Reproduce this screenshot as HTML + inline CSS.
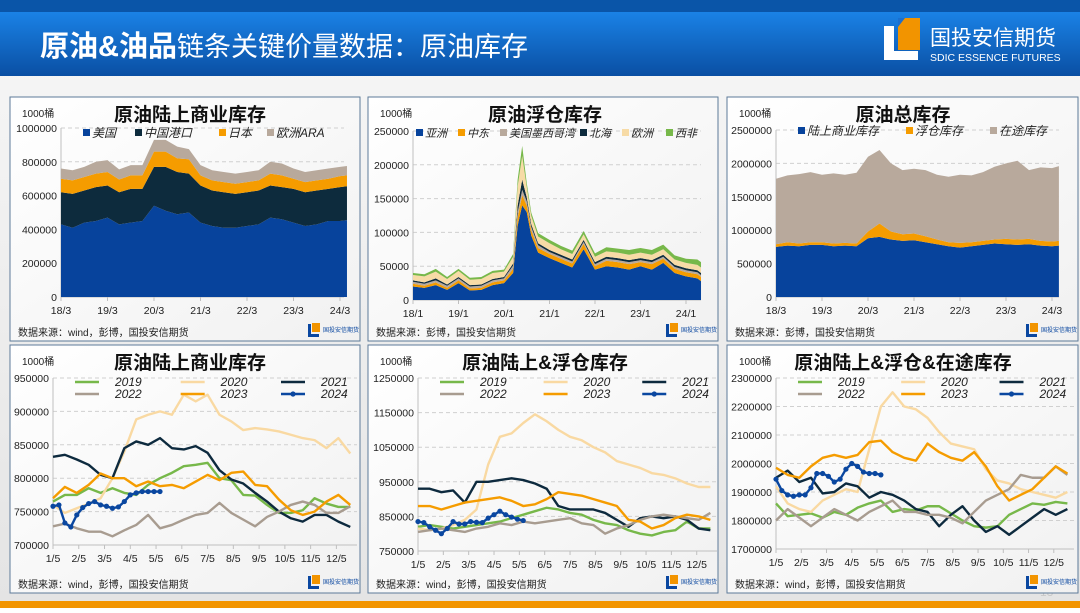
<!DOCTYPE html>
<html><head><meta charset="utf-8">
<style>
body{margin:0;width:1080px;height:608px;overflow:hidden;font-family:"Liberation Sans","Noto Sans CJK SC",sans-serif;}
svg text{font-family:"Liberation Sans","Noto Sans CJK SC",sans-serif;}
</style></head>
<body>
<svg id="root" width="1080" height="608" viewBox="0 0 1080 608" xmlns="http://www.w3.org/2000/svg">
<defs>
<linearGradient id="hdr" x1="0" y1="0" x2="0" y2="1"><stop offset="0" stop-color="#1a82e6"/><stop offset="1" stop-color="#0a4fa3"/></linearGradient>
<linearGradient id="bg" x1="0" y1="0" x2="0" y2="1"><stop offset="0" stop-color="#f7f7f7"/><stop offset="1" stop-color="#e4e4e4"/></linearGradient>
<linearGradient id="pbg" x1="0" y1="0" x2="1" y2="1"><stop offset="0" stop-color="#ffffff"/><stop offset="1" stop-color="#f1f1f1"/></linearGradient>
</defs>
<rect x="0" y="0" width="1080" height="608" fill="url(#bg)"/>
<rect x="0" y="0" width="1080" height="12" fill="#0a55a8"/>
<rect x="0" y="12" width="1080" height="64" fill="url(#hdr)"/>
<text x="40" y="56" fill="#fff" font-size="29"><tspan font-weight="bold">原油&amp;油品</tspan><tspan font-size="27">链条关键价量数据：原油库存</tspan></text>
<g>
<rect x="884" y="26" width="10" height="34" fill="#fff"/><rect x="884" y="51" width="34" height="9" fill="#fff"/>
<polygon points="898,18 920,18 920,50 898,50" fill="#f29400"/>
<polygon points="898,18 905,18 898,27" fill="#1a6fd0"/>
<text x="930" y="45" fill="#fff" font-size="21">国投安信期货</text>
<text x="930" y="61" fill="#fff" font-size="10.5">SDIC ESSENCE FUTURES</text>
</g>
<rect x="0" y="601" width="1080" height="7" fill="#f29400"/>
<text x="1040" y="596" fill="#c8c8c8" font-size="12">13</text>
<g id="charts"></g>
</svg>
<script>
// ---------- Data ----------
const c1Dates=[0,1,2,3,4,5,6,7,8,9,10,11,12,13,14,15,16,17,18,19,20,21,22,23,24,24.6];
const c1Series=['美国','中国港口','日本','欧洲ARA'];
const c1US=[430,410,440,450,470,430,440,450,540,510,490,500,440,420,410,410,420,430,470,460,440,420,430,450,450,455];
const c1China=[190,200,190,200,190,190,200,190,230,260,250,230,220,210,210,200,200,200,190,190,200,200,200,190,200,200];
const c1Japan=[80,80,80,80,80,75,80,80,90,90,80,85,60,60,60,60,60,60,70,70,60,60,60,60,65,65];
const c1ARA=[60,60,60,70,70,60,60,60,70,70,70,60,60,60,60,60,60,60,70,70,60,60,60,60,55,55];
const c1Ticks=['18/3','19/3','20/3','21/3','22/3','23/3','24/3'];
const c1YTicks=[0,200000,400000,600000,800000,1000000];

const c2Dates=[2018.0,2018.25,2018.5,2018.75,2019.0,2019.25,2019.5,2019.75,2020.0,2020.2,2020.3,2020.4,2020.5,2020.6,2020.75,2021.0,2021.25,2021.5,2021.75,2022.0,2022.25,2022.5,2022.75,2023.0,2023.25,2023.5,2023.75,2024.0,2024.25,2024.33];
const c2Series=['亚洲','中东','美国墨西哥湾','北海','欧洲','西非'];
const c2Asia=[20,18,22,15,25,14,15,22,25,40,110,140,130,95,70,62,55,48,75,45,50,48,45,50,45,55,40,35,32,28];
const c2ME=[4,3,4,3,4,3,3,4,4,6,12,15,10,8,7,6,6,6,8,5,8,8,8,6,8,6,6,6,6,6];
const c2USG=[3,3,3,3,3,3,3,3,3,5,8,8,6,5,4,3,3,3,3,3,3,3,3,3,3,3,3,3,3,3];
const c2NS=[2,2,3,2,2,2,2,2,2,3,10,15,6,4,3,3,3,3,3,3,3,3,3,3,3,3,3,3,3,3];
const c2EU=[8,9,10,8,9,8,8,9,8,10,28,35,15,12,10,10,8,8,8,8,8,8,8,8,8,8,8,8,8,8];
const c2WA=[3,3,4,3,3,3,3,3,3,4,10,15,6,5,5,5,5,5,5,5,6,6,7,7,7,7,6,6,8,8];
const c2Ticks=['18/1','19/1','20/1','21/1','22/1','23/1','24/1'];
const c2YTicks=[0,50000,100000,150000,200000,250000];

const c3Dates=c1Dates;
const c3Series=['陆上商业库存','浮仓库存','在途库存'];
const c3On=[750,770,760,780,780,760,770,760,880,900,860,840,850,820,790,760,740,760,780,800,790,780,790,770,760,770];
const c3Float=[40,50,40,40,40,40,40,40,100,200,120,100,100,90,70,60,70,60,60,60,80,80,80,70,70,70];
const c3Transit=[980,1000,1040,1050,1010,1050,1020,1060,1120,1100,1020,960,970,990,970,980,1020,1000,1030,1090,1130,1180,1030,1100,1100,1120];
const c3Ticks=c1Ticks;
const c3YTicks=[0,500000,1000000,1500000,2000000,2500000];

const years=['2019','2020','2021','2022','2023','2024'];
const monthTicks=['1/5','2/5','3/5','4/5','5/5','6/5','7/5','8/5','9/5','10/5','11/5','12/5'];
const c4y2019=[765,775,775,785,778,785,778,775,790,800,808,818,820,823,800,797,775,774,760,748,748,752,770,762,757,757];
const c4y2020=[760,748,755,762,770,800,840,888,895,900,895,925,915,925,895,885,872,875,873,870,865,860,857,845,860,837];
const c4y2021=[832,835,828,820,805,800,845,855,850,860,845,843,848,838,812,798,792,778,765,750,740,735,745,745,735,727];
const c4y2022=[728,732,725,720,720,713,722,730,745,725,730,738,745,748,763,748,738,728,742,750,760,765,760,748,748,758];
const c4y2023=[770,787,778,790,807,800,800,788,795,788,790,785,795,805,797,808,810,790,788,768,752,745,750,765,775,760];
const c4y2024=[758,760,733,727,745,756,762,765,760,758,755,757,765,775,778,780,780,780,780];
const c4YTicks=[700000,750000,800000,850000,900000,950000];

const c5y2019=[820,825,820,815,820,825,830,835,845,855,865,875,870,860,855,840,830,825,810,800,795,805,810,835,815,815];
const c5y2020=[815,810,815,825,840,870,1000,1080,1090,1120,1145,1125,1100,1080,1070,1050,1035,1010,1000,990,975,970,960,945,935,935];
const c5y2021=[930,930,920,925,890,950,950,955,960,955,945,930,880,870,870,870,860,840,820,845,850,845,850,840,815,810];
const c5y2022=[805,810,815,810,805,815,820,830,825,835,830,835,840,845,830,825,800,815,825,840,850,855,850,845,840,860];
const c5y2023=[880,880,870,880,890,895,900,905,895,880,885,900,920,915,910,900,890,880,840,835,815,825,845,855,850,840];
const c5y2024=[835,832,820,810,800,815,835,828,828,835,833,832,845,855,865,855,848,842,838];
const c5YTicks=[750000,850000,950000,1050000,1150000,1250000];

const c6y2019=[1860,1815,1820,1825,1810,1830,1820,1845,1860,1870,1830,1840,1835,1850,1850,1825,1800,1780,1775,1780,1820,1840,1860,1855,1865,1860];
const c6y2020=[1920,1860,1840,1830,1870,1890,1910,1900,2050,2200,2250,2200,2190,2160,2110,2070,2060,2050,1980,1940,1930,1910,1900,1890,1880,1900];
const c6y2021=[1950,1975,1935,1950,1895,1900,1930,1920,1880,1900,1890,1870,1840,1830,1780,1820,1850,1800,1760,1780,1750,1780,1810,1840,1820,1840];
const c6y2022=[1800,1840,1810,1780,1810,1840,1820,1800,1830,1850,1870,1830,1830,1820,1820,1810,1790,1830,1870,1890,1910,1960,1950,1950,1990,1960];
const c6y2023=[1985,1960,1950,1990,2020,2030,2020,2030,2075,2080,2040,2020,2010,2070,2040,2020,2010,2040,1990,1920,1870,1890,1910,1950,1990,1965];
const c6y2024=[1945,1905,1890,1885,1890,1890,1915,1965,1965,1955,1935,1945,1980,2000,1990,1970,1965,1965,1960];
const c6YTicks=[1700000,1800000,1900000,2000000,2100000,2200000,2300000];

// ---------- Helpers ----------
const NS='http://www.w3.org/2000/svg';
const root=document.getElementById('charts');
function mk(tag,attrs,parent,txt){const e=document.createElementNS(NS,tag);for(const k in attrs)e.setAttribute(k,attrs[k]);if(txt!==undefined)e.textContent=txt;(parent||root).appendChild(e);return e;}
const yearColors=['#77b84a','#f9d9a2','#0d2a3e','#a89c90','#f59c00','#0a47a0'];

function panel(px,py,pw,ph,title,titleX,name,src){
  const g=mk('g',{});
  
  
  mk('rect',{x:px,y:py,width:pw,height:ph,fill:'url(#pbg)',stroke:'#5d7a99','stroke-width':1},g);
  const t=mk('text',{x:titleX,y:py+24,'font-size':19,'font-weight':'bold','text-anchor':'middle',fill:'#111'},g,title);
  
  
  const u=mk('text',{x:px+12,y:py+20,'font-size':10,fill:'#222'},g,'1000桶');
  
  
  const s=mk('text',{x:px+8,y:py+ph-5,'font-size':10,fill:'#222'},g,src);
  
  
  const lg=mk('g',{},g);
  
  
  const lx=px+pw-52,ly=py+ph-17;
  mk('rect',{x:lx,y:ly,width:3,height:12,fill:'#0a47a0'},lg);
  mk('rect',{x:lx,y:ly+10,width:11,height:3,fill:'#0a47a0'},lg);
  mk('rect',{x:lx+4,y:ly-1,width:8,height:9,fill:'#f29400'},lg);
  mk('text',{x:lx+15,y:ly+8,'font-size':6,fill:'#0a47a0'},lg,'国投安信期货');
  return g;
}
function yAxis(g,ticks,L,R,T,B,ymin,ymax){
  const ys=v=>B-(v-ymin)/(ymax-ymin)*(B-T);
  ticks.forEach(v=>{
    const y=ys(v);
    if(v!==ymin) mk('line',{x1:L,x2:R,y1:y,y2:y,stroke:'#d0d0d0','stroke-dasharray':'4,3'},g);
    const t=mk('text',{x:L-4,y:y+4,'font-size':10.5,'text-anchor':'end',fill:'#222','font-family':'Liberation Serif, serif'},g,String(v));
    
    
  });
  mk('line',{x1:L,x2:L,y1:T,y2:B,stroke:'#bfbfbf'},g);
  mk('line',{x1:L,x2:R,y1:B,y2:B,stroke:'#bfbfbf'},g);
  return ys;
}
function xTicks(g,labels,xs,B){
  labels.forEach((l,i)=>{
    const x=xs(i);
    mk('line',{x1:x,x2:x,y1:B,y2:B+4,stroke:'#bfbfbf'},g);
    const t=mk('text',{x:x,y:B+17,'font-size':10.5,'text-anchor':'middle',fill:'#222','font-family':'Liberation Serif, serif'},g,l);
    
    
  });
}
function stacked(g,dates,layers,colors,xs,ys,names,scale){
  let base=dates.map(()=>0);
  layers.forEach((arr,k)=>{
    const top=arr.map((v,i)=>base[i]+v*scale);
    let d='M'+dates.map((t,i)=>xs(t)+','+ys(top[i])).join(' L');
    for(let i=dates.length-1;i>=0;i--) d+=' L'+xs(dates[i])+','+ys(base[i]);
    const p=mk('path',{d:d+'Z',fill:colors[k]},g);
    
    
    base=top;
  });
}
function legendSq(g,items,colors,x0,y,gaps,fs){
  let x=x0;
  items.forEach((n,i)=>{
    mk('rect',{x:x,y:y-8,width:7,height:7,fill:colors[i]},g);
    const t=mk('text',{x:x+9,y:y,'font-size':fs||12,'font-style':'italic',fill:'#222'},g,n);
    
    
    x+=gaps[i];
  });
}
function seasonal(g,L,R,T,B,datas,ymin,ymax,ticks){
  const ys=yAxis(g,ticks,L,R,T,B,ymin,ymax);
  const monthW=(R-L)/11.8;
  const xm=i=>L+i*monthW;
  const xw=w=>L+w/(52/12)*monthW;
  xTicks(g,monthTicks,xm,B);
  datas.forEach((arr,k)=>{
    const step=k===5?1:2;
    const pts=arr.map((v,i)=>xw(i*step)+','+ys(v*1000)).join(' ');
    const pl=mk('polyline',{points:pts,fill:'none',stroke:yearColors[k],'stroke-width':2.4,'stroke-linejoin':'round'},g);
    
    
    if(k===5) arr.forEach((v,i)=>{
      const c=mk('circle',{cx:xw(i*step),cy:ys(v*1000),r:2.6,fill:yearColors[5]},g);
      
      
    });
  });
  const lx=[L+22,L+(R-L)*0.42,L+(R-L)*0.75];
  years.forEach((y,i)=>{
    const x=lx[i%3],yy=T+8+(i>=3?12:0);
    mk('line',{x1:x,x2:x+24,y1:yy-4,y2:yy-4,stroke:yearColors[i],'stroke-width':2.5},g);
    if(i===5) mk('circle',{cx:x+12,cy:yy-4,r:2.6,fill:yearColors[5]},g);
    const t=mk('text',{x:x+40,y:yy,'font-size':12,'font-style':'italic',fill:'#222'},g,y);
    
    
  });
}

// ---------- Chart 1 ----------
(function(){
  const g=panel(10,97,350,244,'原油陆上商业库存',190,'chart-onshore-commercial','数据来源：wind，彭博，国投安信期货');
  const L=61,R=344,T=128,B=297;
  const ys=yAxis(g,c1YTicks,L,R,T,B,0,1000000);
  const qw=(340-61)/24; const xs=t=>L+t*qw;
  stacked(g,c1Dates,[c1US,c1China,c1Japan,c1ARA],['#07439c','#0d2b3d','#f59c00','#b8a99c'],xs,ys,['us','china-port','japan','ara'],1000);
  xTicks(g,c1Ticks,i=>xs(i*4),B);
  legendSq(g,c1Series,['#07439c','#0d2b3d','#f59c00','#b8a99c'],83,137,[52,84,48,80]);
})();
// ---------- Chart 2 ----------
(function(){
  const g=panel(368,97,350,244,'原油浮仓库存',545,'chart-floating-storage','数据来源：彭博，国投安信期货');
  const L=413,R=701,T=131,B=300;
  const ys=yAxis(g,c2YTicks,L,R,T,B,0,250000);
  const yw=(686-413)/6; const xs=t=>L+(t-2018)*yw;
  const cols=['#07439c','#f59c00','#b8a99c','#0d2b3d','#f7dba6','#77b84a'];
  stacked(g,c2Dates,[c2Asia,c2ME,c2USG,c2NS,c2EU,c2WA],cols,xs,ys,['asia','middle-east','us-gulf','north-sea','europe','west-africa'],1000);
  xTicks(g,c2Ticks,i=>xs(2018+i),B);
  legendSq(g,c2Series,cols,416,137,[42,42,80,42,44,40],11);
})();
// ---------- Chart 3 ----------
(function(){
  const g=panel(727,97,351,244,'原油总库存',903,'chart-total-inventory','数据来源：彭博，国投安信期货');
  const L=776,R=1059,T=130,B=297;
  const ys=yAxis(g,c3YTicks,L,R,T,B,0,2500000);
  const qw=(1052-776)/24; const xs=t=>L+t*qw;
  const cols=['#07439c','#f59c00','#b8a99c'];
  stacked(g,c3Dates,[c3On,c3Float,c3Transit],cols,xs,ys,['onshore','floating','in-transit'],1000);
  xTicks(g,c3Ticks,i=>xs(i*4),B);
  legendSq(g,c3Series,cols,798,135,[108,84,80]);
})();
// ---------- Chart 4 ----------
(function(){
  const g=panel(10,345,350,248,'原油陆上商业库存',190,'chart-onshore-seasonal','数据来源：wind，彭博，国投安信期货');
  seasonal(g,53,357,378,545,[c4y2019,c4y2020,c4y2021,c4y2022,c4y2023,c4y2024],700000,950000,c4YTicks);
})();
// ---------- Chart 5 ----------
(function(){
  const g=panel(368,345,350,248,'原油陆上&浮仓库存',545,'chart-onshore-floating-seasonal','数据来源：wind，彭博，国投安信期货');
  seasonal(g,418,717,378,551,[c5y2019,c5y2020,c5y2021,c5y2022,c5y2023,c5y2024],750000,1250000,c5YTicks);
})();
// ---------- Chart 6 ----------
(function(){
  const g=panel(727,345,351,248,'原油陆上&浮仓&在途库存',903,'chart-total-seasonal','数据来源：wind，彭博，国投安信期货');
  seasonal(g,776,1074,378,549,[c6y2019,c6y2020,c6y2021,c6y2022,c6y2023,c6y2024],1700000,2300000,c6YTicks);
})();
</script>
</body></html>
